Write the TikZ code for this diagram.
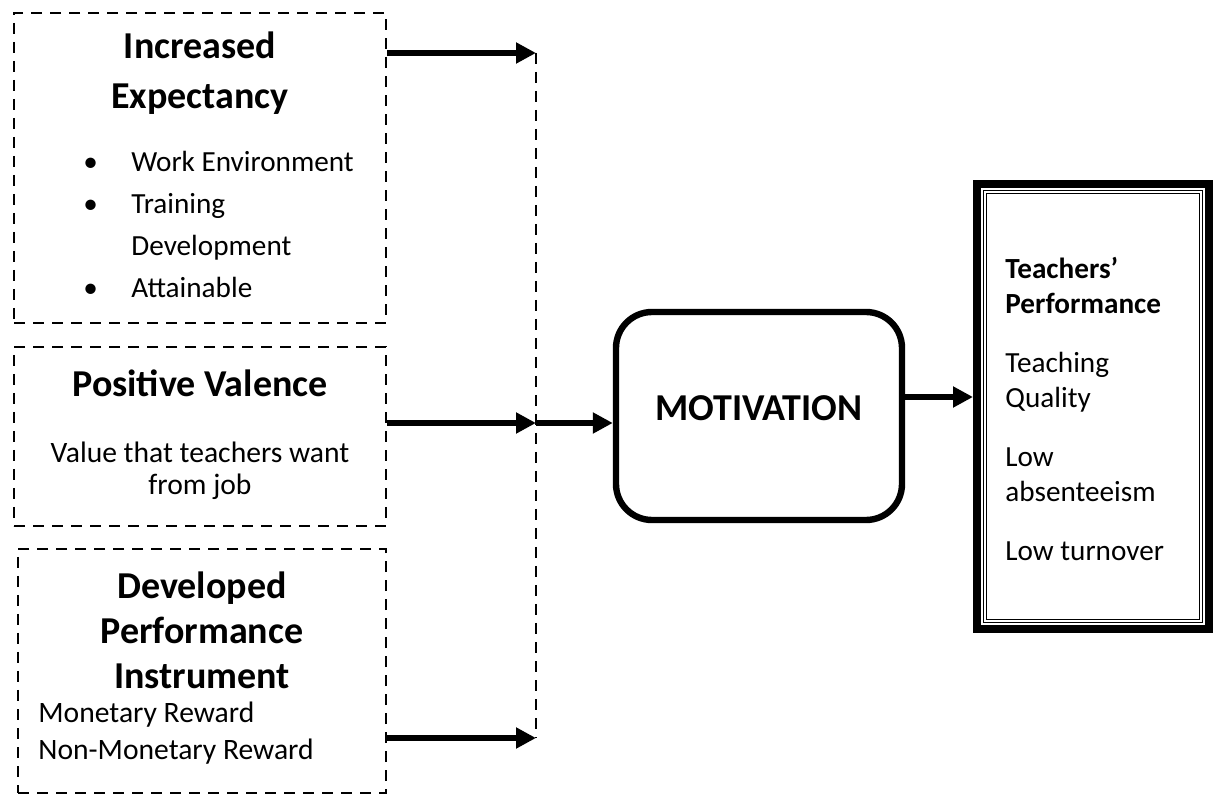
\documentclass[tikz,border=0pt]{standalone}
\usepackage{fontspec}
\setmainfont{Carlito}
\usetikzlibrary{arrows.meta}

\begin{document}
\begin{tikzpicture}[x=0.5pt,y=-0.5pt]
	\tikzstyle{dbox}=[draw, line width=1.1pt, dash pattern=on 5.5pt off 4pt, inner sep=0pt]
	\tikzstyle{dline}=[line width=1pt, dash pattern=on 5.5pt off 4pt]
	\tikzstyle{head}=[inner sep=0pt, align=center, font=\fontsize{19}{25}\selectfont\bfseries]
	\tikzstyle{body}=[inner sep=0pt, font=\fontsize{14.6}{17.5}\selectfont]
	\tikzstyle{motbox}=[draw, line width=3.2pt, rounded corners=18pt, minimum width=143pt, minimum height=104pt]
	\tikzstyle{connect}=[-{Triangle[length=10pt,width=10pt]}, line width=2.8pt]
	\useasboundingbox (0,0) rectangle (1216,796);
	% left boxes
	\node[dbox, minimum width=186pt, minimum height=155pt] (exp) at (200,168) {};
	\node[dbox, minimum width=186pt, minimum height=89.5pt] (val) at (200,436.5) {};
	\node[dbox, minimum width=184pt, minimum height=122pt] (ins) at (202,671) {};
	\node[head] (exph) at (200,73) {Increased\\Expectancy};
	\node[body, anchor=west, font=\fontsize{14.6}{21}\selectfont] (explist) at (83,226.5)
	  {\begin{tabular}{@{}p{24pt}@{}l@{}}
	  \textbullet & Work Environment\\
	  \textbullet & Training\\
	              & Development\\
	  \textbullet & Attainable
	  \end{tabular}};
	\node[head] (valh) at (200,383) {Positive Valence};
	\node[body, align=center, font=\fontsize{14.8}{16}\selectfont] (valtxt) at (200,471) {Value that teachers want\\from job};
	\node[head, font=\fontsize{19}{22.5}\selectfont\bfseries] (insh) at (202,630) {Developed\\Performance\\Instrument};
	\node[body, align=left, anchor=west, font=\fontsize{14.8}{18.5}\selectfont] (instxt) at (38,733.5) {Monetary Reward\\Non-Monetary Reward};
	% joining line
	\coordinate (j1) at (536,53);
	\coordinate (j2) at (536,423);
	\coordinate (j3) at (536,738);
	\draw[dline] (j1) -- (j3);
	% motivation
	\node[motbox] (mot) at (759,416) {};
	\node[head] (motlbl) at (759,408) {MOTIVATION};
	% outcome box
	\node[draw, line width=4pt, minimum width=116pt, minimum height=222.5pt, inner sep=0pt] (out) at (1093,406.5) {};
	\node[draw, double, line width=0.5pt, double distance=0.8pt, minimum width=108pt, minimum height=214.5pt, inner sep=0pt] (outin) at (1093,406.5) {};
	\node[body, align=left, anchor=west] (perf) at (1005,409)
	  {\textbf{Teachers’}\\\textbf{Performance}\\[12pt]Teaching\\Quality\\[12pt]Low\\absenteeism\\[12pt]Low turnover};
	\coordinate (tip) at (973,397);
	\path
	  (exp.east |- j1) edge [connect] (j1)
	  (val.east |- j2) edge [connect] (j2)
	  (ins.east |- j3) edge [connect] (j3)
	  (j2) edge [connect] (j2 -| mot.west)
	  (mot.east |- tip) edge [connect] (tip);
\end{tikzpicture}
\end{document}
